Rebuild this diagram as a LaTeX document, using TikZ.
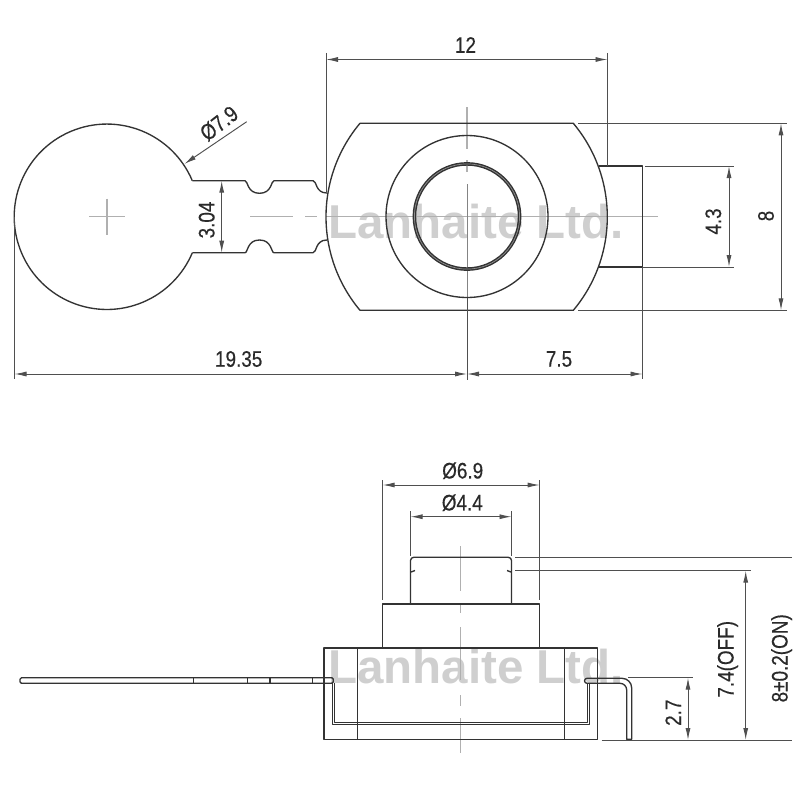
\documentclass[tikz,border=0pt]{standalone}
\usepackage{fontspec}
\setmainfont[FakeStretch=0.84,FakeBold=0.35]{Liberation Sans}
\newfontfamily\wmfont{Liberation Sans}
\usetikzlibrary{arrows.meta}
\definecolor{obj}{HTML}{333333}
\definecolor{dimc}{HTML}{4F4F4F}
\definecolor{cent}{HTML}{B0B0B0}
\definecolor{wm}{HTML}{CFCFCF}
\definecolor{txt}{HTML}{2A2A2A}
\tikzset{
  objline/.style={draw=obj,line width=1.35pt,line join=round},
  extline/.style={draw=dimc,line width=0.95pt},
  centline/.style={draw=cent,line width=1.4pt},
  dimline/.style={draw=dimc,line width=0.95pt,{Latex[length=12pt,width=5pt]}-{Latex[length=12pt,width=5pt]}},
  leaderline/.style={draw=dimc,line width=0.95pt,{Latex[length=12pt,width=5pt]}-},
  dimtext/.style={text=txt,inner sep=0pt,font=\fontsize{22.5}{24}\selectfont},
  wmark/.style={text=wm,inner sep=0pt,anchor=base west,font=\fontsize{47.5}{48}\wmfont\bfseries}
}
\begin{document}
\begin{tikzpicture}[x=1pt,y=1pt,yscale=-1]
\useasboundingbox (0,0) rectangle (800,800);
% watermarks
\node[wmark] (wmtop) at (328,238) {Lanhaite Ltd.};
\node[wmark] (wmbot) at (328,683) {Lanhaite Ltd.};
% centre lines, top view
\draw[centline] (89,216.5) -- (125,216.5) (107,198.5) -- (107,235);
\draw[centline] (250,216.5) -- (293,216.5) (305,216.5) -- (317,216.5) (326,216.5) -- (658,216.5);
\draw[centline] (467,107) -- (467,149) (467,160) -- (467,172);
\draw[extline,draw=dimc!70] (467,184) -- (467,297.5);
% disc and neck outline
\draw[objline] (192.3,180.7) arc[start angle=-22.9,end angle=-337.1,radius=92.7pt];
\draw[objline] (192.3,180.7) -- (245,180.7)
  .. controls (248,180.7) and (247,193.3) .. (259.5,193.3)
  .. controls (272,193.3) and (271,180.7) .. (274,180.7)
  -- (313,180.7) .. controls (317,180.7) and (315,193) .. (327,193);
\draw[objline] (192.3,252.7) -- (245,252.7)
  .. controls (248,252.7) and (247,240) .. (259.5,240)
  .. controls (272,240) and (271,252.7) .. (274,252.7)
  -- (313,252.7) .. controls (317,252.7) and (315,240) .. (327,240);
% plate
\draw[objline] (360,123.3) -- (573.3,123.3)
  arc[start angle=-39.96,end angle=39.96,radius=145.6pt]
  -- (360,310.3)
  arc[start angle=140.04,end angle=219.96,radius=145.6pt] -- cycle;
\draw[objline] (467,216.5) circle[radius=81pt];
\draw[draw=obj,line width=3.6pt] (467,216.5) circle[radius=52.6pt];
\draw[draw=white!45!obj,line width=0.7pt] (467,216.5) circle[radius=52.6pt];
% tab
\draw[objline] (598.7,166) -- (642.5,166) -- (642.5,267) -- (598.7,267);
% extension lines top view
\draw[extline] (326,53) -- (326,192);
\draw[extline] (607.5,53) -- (607.5,166);
\draw[extline] (578,123.3) -- (786.5,123.3);
\draw[extline] (578,310.3) -- (786.5,310.3);
\draw[extline] (645,166) -- (734,166);
\draw[extline] (642.5,267) -- (734,267);
\draw[extline] (14.5,216.5) -- (14.5,379);
\draw[extline] (467,297.5) -- (467,380);
\draw[extline] (642.5,267) -- (642.5,379);
% dimensions top view
\draw[dimline] (326,59.5) -- (607.5,59.5);
\draw[dimline] (781,123.3) -- (781,310.3);
\draw[dimline] (729,166) -- (729,267);
\draw[dimline] (14.5,374) -- (467,374);
\draw[dimline] (467,374) -- (642.5,374);
\draw[dimline] (221.7,180.7) -- (221.7,252.7);
\draw[leaderline] (184.3,164) -- (246.7,121.7);
\node[dimtext] (d12) at (465.5,45) {12};
\node[dimtext,rotate=90] (d8) at (766,216) {8};
\node[dimtext,rotate=90] (d43) at (713.3,221.5) {4.3};
\node[dimtext] (d1935) at (238.7,359) {19.35};
\node[dimtext] (d75) at (559,359) {7.5};
\node[dimtext,rotate=90] (d304) at (206.7,220) {3.04};
\node[dimtext,rotate=38] (d79) at (219,123.3) {Ø7.9};
% side view centre line
\draw[centline] (460.7,546) -- (460.7,591) (460.7,605) -- (460.7,613) (460.7,627) -- (460.7,680) (460.7,695) -- (460.7,706) (460.7,718) -- (460.7,753);
% button
\draw[objline] (410.5,604) -- (410.5,560.5) arc[start angle=180,end angle=270,radius=3.2pt] -- (508.3,557.3) arc[start angle=270,end angle=360,radius=3.2pt] -- (511.5,604);
\draw[objline] (411,572) -- (415,570.5) (511,572) -- (507,570.5);
% collar
\draw[objline] (382.7,648) -- (382.7,604) -- (539.7,604) -- (539.7,648);
% body
\draw[objline] (324,648) rectangle (597.7,739.3);
\draw[objline] (357.7,648) -- (357.7,739.3) (564.3,648) -- (564.3,739.3);
% left terminal
\draw[objline,rounded corners=1.5pt] (333.3,677.7) -- (20,677.7) -- (20,683.3) -- (333.3,683.3) -- cycle;
\draw[objline] (193.3,677.7) -- (193.3,683.3) (247.3,677.7) -- (247.3,683.3) (270,677.7) -- (270,683.3) (312.7,677.7) -- (312.7,683.3);
% inner strip
\draw[objline,line width=1pt] (332.3,683.3) -- (332.3,724.6) -- (589.3,724.6) -- (589.3,683.3);
\draw[objline,line width=1pt] (334.6,683.3) -- (334.6,722.4) -- (587,722.4) -- (587,683.3);
% right terminal
\draw[objline] (626.7,739.3) -- (626.7,690) arc[start angle=0,end angle=-90,radius=6.7pt] -- (587,683.3) arc[start angle=90,end angle=270,radius=2.5pt] -- (622,678.3) arc[start angle=-90,end angle=0,radius=9.7pt] -- (631.7,739.3) -- cycle;
% extension lines side view
\draw[extline] (382.7,480) -- (382.7,600);
\draw[extline] (539.7,480) -- (539.7,600);
\draw[extline] (410.5,511) -- (410.5,556);
\draw[extline] (511.5,511) -- (511.5,556);
\draw[extline] (515,557.3) -- (792.3,557.3);
\draw[extline] (515,570.7) -- (751,570.7);
\draw[extline] (601.7,740) -- (792.3,740);
\draw[extline] (628,677.7) -- (693,677.7);
% dimensions side view
\draw[dimline] (382.7,485) -- (539.7,485);
\draw[dimline] (410.5,516.7) -- (511.5,516.7);
\draw[dimline] (745.7,570.7) -- (745.7,740);
\draw[dimline] (688,677.7) -- (688,740);
\node[dimtext] (d69) at (462.7,470.7) {Ø6.9};
\node[dimtext] (d44) at (462.3,502.7) {Ø4.4};
\node[dimtext,rotate=90] (d74) at (727.7,659.3) {7.4(OFF)};
\node[dimtext,rotate=90] (d80) at (781.7,658.3) {8±0.2(ON)};
\node[dimtext,rotate=90] (d27) at (673.3,712.7) {2.7};
\end{tikzpicture}
\end{document}
